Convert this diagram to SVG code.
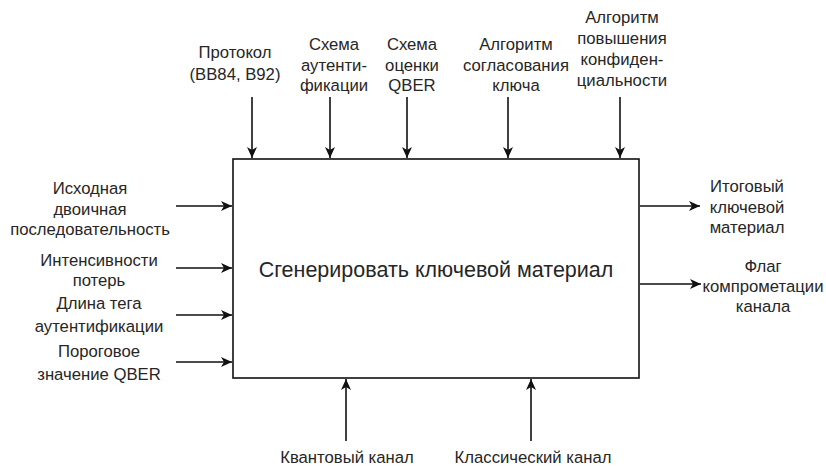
<svg xmlns="http://www.w3.org/2000/svg" width="826" height="466" viewBox="0 0 826 466">
  <style>
    .lbl { font-family: "Liberation Sans", Arial, sans-serif; font-size: 16.7px; fill: #262626; text-anchor: middle; }
    .main { font-family: "Liberation Sans", Arial, sans-serif; font-size: 21.5px; fill: #262626; text-anchor: middle; }
    .box { fill: #fff; stroke: #111; stroke-width: 1.6; }
    .arr { stroke: #111; stroke-width: 1.6; fill: none; marker-end: url(#head); }
  </style>
  <defs>
    <marker id="head" markerWidth="12" markerHeight="12" refX="11" refY="6" orient="auto" markerUnits="userSpaceOnUse">
      <path d="M0,1 L11,6 L0,11 L3,6 Z" fill="#111"/>
    </marker>
  </defs>

  <!-- central function block -->
  <g id="process">
    <rect class="box" x="233" y="159" width="406" height="219"/>
    <text class="main" x="436" y="277">Сгенерировать ключевой материал</text>
  </g>

  <!-- controls (top) -->
  <g id="ctl-protocol">
    <text class="lbl" x="235" y="58">Протокол</text>
    <text class="lbl" x="235" y="80">(BB84, B92)</text>
  </g>
  <g id="ctl-auth">
    <text class="lbl" x="334" y="50">Схема</text>
    <text class="lbl" x="334" y="70.5">аутенти-</text>
    <text class="lbl" x="334" y="91">фикации</text>
  </g>
  <g id="ctl-qber">
    <text class="lbl" x="412" y="50">Схема</text>
    <text class="lbl" x="412" y="70.5">оценки</text>
    <text class="lbl" x="412" y="91">QBER</text>
  </g>
  <g id="ctl-reconcile">
    <text class="lbl" x="516" y="50">Алгоритм</text>
    <text class="lbl" x="516" y="70.5">согласования</text>
    <text class="lbl" x="516" y="91">ключа</text>
  </g>
  <g id="ctl-privacy">
    <text class="lbl" x="622" y="23">Алгоритм</text>
    <text class="lbl" x="622" y="44">повышения</text>
    <text class="lbl" x="622" y="64.5">конфиден-</text>
    <text class="lbl" x="622" y="85.5">циальности</text>
  </g>

  <!-- inputs (left) -->
  <g id="in-sequence">
    <text class="lbl" x="90" y="194">Исходная</text>
    <text class="lbl" x="90" y="214.5">двоичная</text>
    <text class="lbl" x="90" y="235">последовательность</text>
  </g>
  <g id="in-loss">
    <text class="lbl" x="99" y="266">Интенсивности</text>
    <text class="lbl" x="99" y="286">потерь</text>
  </g>
  <g id="in-tag">
    <text class="lbl" x="99" y="309">Длина тега</text>
    <text class="lbl" x="99" y="332">аутентификации</text>
  </g>
  <g id="in-threshold">
    <text class="lbl" x="99" y="357">Пороговое</text>
    <text class="lbl" x="99" y="380">значение QBER</text>
  </g>

  <!-- outputs (right) -->
  <g id="out-key">
    <text class="lbl" x="747" y="192">Итоговый</text>
    <text class="lbl" x="747" y="212.5">ключевой</text>
    <text class="lbl" x="747" y="233">материал</text>
  </g>
  <g id="out-flag">
    <text class="lbl" x="763" y="272">Флаг</text>
    <text class="lbl" x="763" y="292">компрометации</text>
    <text class="lbl" x="763" y="312">канала</text>
  </g>

  <!-- mechanisms (bottom) -->
  <g id="mech-quantum">
    <text class="lbl" x="347" y="463">Квантовый канал</text>
  </g>
  <g id="mech-classic">
    <text class="lbl" x="533" y="463">Классический канал</text>
  </g>

  <!-- connectors -->
  <g id="connectors">
    <line class="arr" x1="252" y1="97" x2="252" y2="158"/>
    <line class="arr" x1="330" y1="97" x2="330" y2="158"/>
    <line class="arr" x1="407" y1="97" x2="407" y2="158"/>
    <line class="arr" x1="508" y1="97" x2="508" y2="158"/>
    <line class="arr" x1="620" y1="97" x2="620" y2="158"/>

    <line class="arr" x1="176" y1="206" x2="232" y2="206"/>
    <line class="arr" x1="176" y1="268" x2="232" y2="268"/>
    <line class="arr" x1="176" y1="315" x2="232" y2="315"/>
    <line class="arr" x1="176" y1="362" x2="232" y2="362"/>

    <line class="arr" x1="640" y1="206" x2="700" y2="206"/>
    <line class="arr" x1="640" y1="284" x2="701" y2="284"/>

    <line class="arr" x1="346" y1="441" x2="346" y2="379"/>
    <line class="arr" x1="531" y1="441" x2="531" y2="379"/>
  </g>
</svg>
